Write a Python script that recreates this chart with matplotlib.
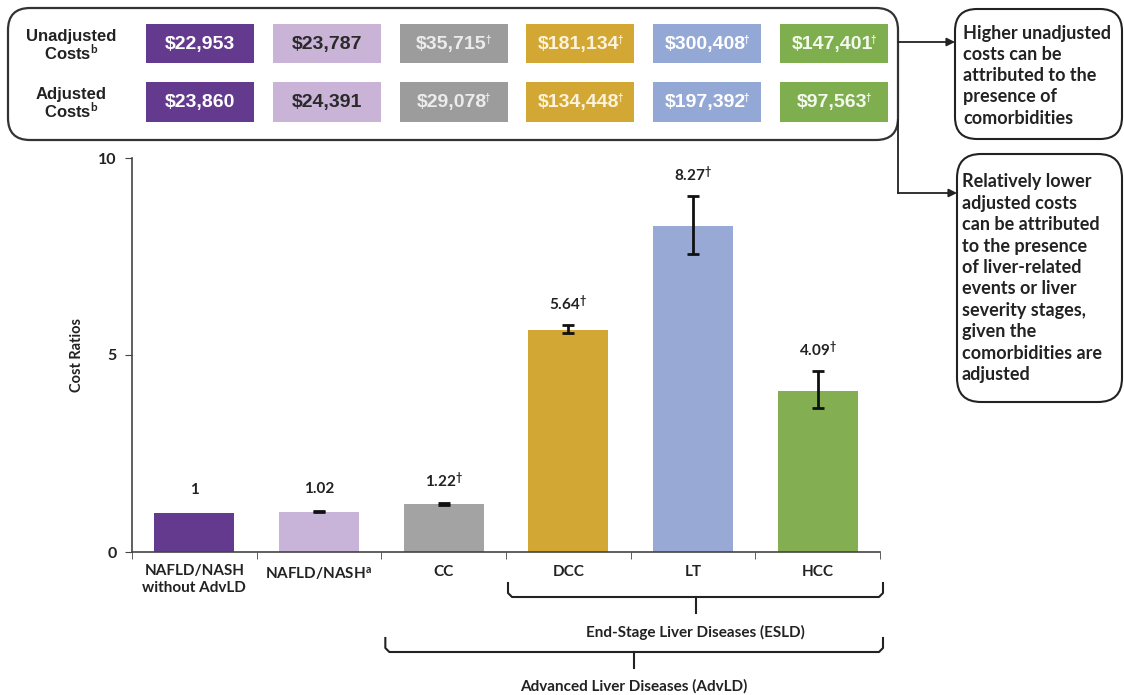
import matplotlib
matplotlib.use("Agg")
import matplotlib.pyplot as plt
from matplotlib.patches import FancyBboxPatch, Rectangle
import numpy as np

plt.rcParams['font.family'] = ['Lato', 'DejaVu Sans']
plt.rcParams['font.weight'] = 'bold'
plt.rcParams['mathtext.fontset'] = 'custom'
plt.rcParams['mathtext.rm'] = 'Lato:bold'
plt.rcParams['mathtext.it'] = 'Lato:bold'
plt.rcParams['mathtext.bf'] = 'Lato:bold'

# data
categories = ["NAFLD/NASH\nwithout AdvLD", "NAFLD/NASH$^{\\mathrm{a}}$", "CC", "DCC", "LT", "HCC"]
cost_ratio = [1.0, 1.02, 1.22, 5.64, 8.27, 4.09]
ci_low = [1.0, 1.01, 1.19, 5.56, 7.56, 3.65]
ci_high = [1.0, 1.03, 1.25, 5.76, 9.04, 4.59]
significant = [False, False, True, True, True, True]
unadjusted_costs = [22953, 23787, 35715, 181134, 300408, 147401]
adjusted_costs = [23860, 24391, 29078, 134448, 197392, 97563]
row_labels = ["Unadjusted", "Adjusted"]

note_top = ["Higher unadjusted", "costs can be", "attributed to the",
            "presence of", "comorbidities"]
note_bottom = ["Relatively lower", "adjusted costs", "can be attributed",
               "to the presence", "of liver-related", "events or liver",
               "severity stages,", "given the", "comorbidities are", "adjusted"]

bar_colors = ["#643a8e", "#c8b4d8", "#a3a3a3", "#d3a733", "#97a9d4", "#83ae52"]
cell_colors = ["#643a8e", "#c9b4d8", "#9c9c9c", "#d3a733", "#94a8d6", "#7fae4f"]
cell_text_colors = ["#ffffff", "#2a2a2a", "#ececec", "#fbf3dc", "#ffffff", "#f4f9ee"]
ink = "#222222"

W, H = 1124, 695
fig = plt.figure(figsize=(W / 100, H / 100), dpi=100)

# main bar chart, pixel box: x 132..880, y 158..552
ax_l, ax_r, ax_t, ax_b = 132, 880, 158, 552
ax = fig.add_axes([ax_l / W, 1 - ax_b / H, (ax_r - ax_l) / W, (ax_b - ax_t) / H])
x = np.arange(len(categories))
v = np.array(cost_ratio)
lo = np.array(ci_low)
hi = np.array(ci_high)

ax.bar(x, v, width=0.64, color=bar_colors, zorder=2)
m = hi > lo
ax.errorbar(x[m], v[m], yerr=[v[m] - lo[m], hi[m] - v[m]], fmt='none',
            ecolor='#111111', elinewidth=2, capsize=4, capthick=2, zorder=3)

for xi, val, top, sig in zip(x, cost_ratio, ci_high, significant):
    txt = f"{val:g}" + ("$^{\\dagger}$" if sig else "")
    ax.annotate(txt, (xi, top), xytext=(0, 16), textcoords='offset points',
                ha='center', va='center', fontsize=11, color=ink, fontweight='bold')

ax.set_xlim(-0.5, len(categories) - 0.5)
ax.set_ylim(0, 10)
ax.set_yticks([0, 5, 10])
ax.set_yticklabels(["0", "5", "10"], fontweight='bold')
ax.set_xticks(x)
ax.set_xticklabels(categories, fontsize=11, color=ink, va='top', linespacing=1.25,
                   fontweight='bold')
ax.set_xticks(np.arange(-0.5, len(categories), 1), minor=True)
ax.tick_params(axis='x', which='major', length=0, pad=9)
ax.tick_params(axis='x', which='minor', length=5, direction='out', color='#444444')
ax.tick_params(axis='y', length=5, direction='out', color='#444444', labelsize=11.5,
               labelcolor=ink, pad=6)
ax.set_ylabel("Cost Ratios", fontsize=10.5, color=ink, labelpad=10, fontweight='bold')
for s in ['top', 'right']:
    ax.spines[s].set_visible(False)
for s in ['left', 'bottom']:
    ax.spines[s].set_color('#444444')
    ax.spines[s].set_linewidth(1.2)

# overlay in pixel coordinates for the table, notes and braces
ov = fig.add_axes([0, 0, 1, 1], facecolor='none')
ov.set_xlim(0, W)
ov.set_ylim(H, 0)
ov.axis('off')

frame = FancyBboxPatch((8, 8), 890, 132, boxstyle="round,pad=0,rounding_size=22",
                       fc='white', ec='#333333', lw=1.6, zorder=1)
ov.add_patch(frame)

col_x0, col_step, col_w = 146, 126.8, 108
rows = [(unadjusted_costs, 24, 39), (adjusted_costs, 82, 40)]
flagged = []
for (costs, y0, h), lab in zip(rows, row_labels):
    ov.text(71, y0 + 12, lab, ha='center', va='center', fontsize=12,
            family='Liberation Sans', fontweight='bold', color=ink)
    ov.text(71, y0 + 29, "Costs$^{\\mathrm{b}}$", ha='center', va='center',
            fontsize=12, family='Liberation Sans', fontweight='bold', color=ink)
    for i, c in enumerate(costs):
        cx = col_x0 + i * col_step
        ov.add_patch(Rectangle((cx, y0), col_w, h, fc=cell_colors[i], ec='none', zorder=2))
        shift = -2 if significant[i] else 0
        t = ov.text(cx + col_w / 2 + shift, y0 + h / 2 + 1, f"${c:,}", ha='center',
                    va='center', fontsize=14, family='Liberation Sans', fontweight='bold',
                    color=cell_text_colors[i], zorder=3)
        if significant[i]:
            flagged.append((t, cell_text_colors[i]))

# small daggers after the significant table values
fig.canvas.draw()
rend = fig.canvas.get_renderer()
inv = ov.transData.inverted()
for t, col in flagged:
    bb = t.get_window_extent(rend)
    (x1, ytop), = inv.transform([[bb.x1, bb.y1]])
    ov.text(x1 - 2, ytop - 1, "\u2020", ha='left', va='top', fontsize=7,
            family='Liberation Sans', color=col, zorder=3)

# note boxes
ov.add_patch(FancyBboxPatch((955, 9), 167, 130, boxstyle="round,pad=0,rounding_size=22",
                            fc='white', ec='#222222', lw=1.5))
ov.add_patch(FancyBboxPatch((957, 154), 165, 248, boxstyle="round,pad=0,rounding_size=24",
                            fc='white', ec='#222222', lw=1.5))
for k, line in enumerate(note_top):
    ov.text(963, 33 + k * 21.3, line, ha='left', va='center', fontsize=13, color=ink,
            fontweight='bold')
for k, line in enumerate(note_bottom):
    ov.text(962, 182 + k * 21.4, line, ha='left', va='center', fontsize=13, color=ink,
            fontweight='bold')

arrow = dict(arrowstyle='-|>', color='#222222', lw=1.3, mutation_scale=12,
             shrinkA=0, shrinkB=0)
ov.annotate("", xy=(955, 42), xytext=(898, 42), arrowprops=arrow)
ov.plot([898, 898], [120, 193], color='#222222', lw=1.3)
ov.annotate("", xy=(957, 193), xytext=(898, 193), arrowprops=arrow)


def px(d):
    return ax_l + (d + 0.5) * (ax_r - ax_l) / len(categories)


def brace(x0, x1, top, mid, bot, text, ty):
    xc = (x0 + x1) / 2
    ov.plot([x0, x0, x0 + 4, x1 - 4, x1, x1], [top, mid - 4, mid, mid, mid - 4, top],
            color='#222222', lw=1.5, solid_joinstyle='round')
    ov.plot([xc, xc], [mid, bot], color='#222222', lw=1.5)
    ov.text(xc, ty, text, ha='center', va='center', fontsize=11, color=ink,
            fontweight='bold')


brace(px(2.5) + 2, px(5.5) + 3, 583, 597, 613, "End-Stage Liver Diseases (ESLD)", 632)
brace(px(1.5) + 4, px(5.5) + 3, 638, 652, 668, "Advanced Liver Diseases (AdvLD)", 686)

fig.savefig("out.png", dpi=100)
